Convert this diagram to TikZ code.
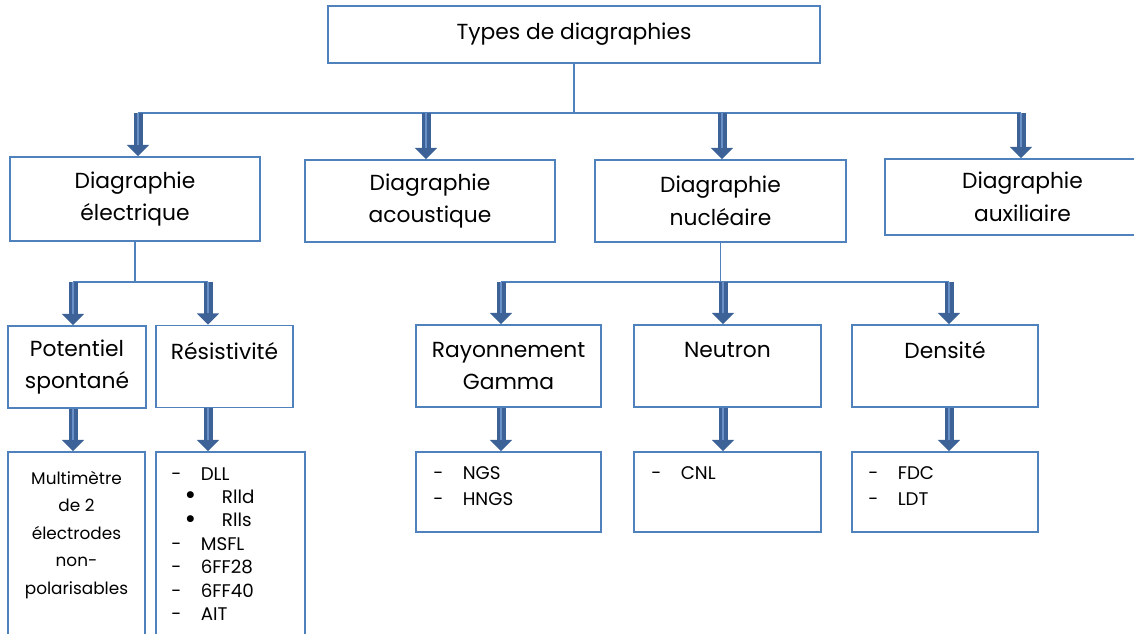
\documentclass[tikz,border=0pt]{standalone}
\usepackage{fontspec}
\setmainfont{Poppins}
\usetikzlibrary{arrows.meta,positioning,calc}
\definecolor{boxblue}{RGB}{79,129,189}
\definecolor{arrowdark}{RGB}{60,98,152}
\definecolor{arrowlight}{RGB}{105,145,200}

\newcommand{\dashitem}[1]{\makebox[21pt][l]{-}#1}
\newcommand{\dotitem}[1]{\hspace*{9.5pt}\makebox[26.5pt][l]{\smash{\raisebox{-1pt}{\fontsize{20}{20}\selectfont\textbullet}}}#1}

\begin{document}
\begin{tikzpicture}[
    x=0.025cm, y=-0.025cm,
    box/.style={rectangle, draw=boxblue, line width=1.3pt, inner sep=0pt, align=center, font=\fontsize{15.5}{23.2}\selectfont},
    head/.style={inner sep=0pt, font=\fontsize{15.5}{23.2}\selectfont},
    items/.style={inner sep=0pt, align=left, font=\fontsize{13}{16.7}\selectfont},
    link/.style={draw=boxblue, line width=1pt},
    bigarrow/.style={-{Triangle[width=15.5pt,length=8pt]}, draw=arrowdark, line width=6.4pt,
        postaction={draw=arrowlight, line width=1.6pt, -, shorten >=8pt}}
]
\useasboundingbox (0,0) rectangle (1134,633);
\clip (0,0) rectangle (1134,633);

% Root
\node[box, minimum width=12.3cm, minimum height=1.425cm] (types) at (574,34.5) {Types de diagraphies};

% First level
\node[box, minimum width=6.25cm, minimum height=2.1cm] (elec) at (135,199) {Diagraphie\\électrique};
\node[box, minimum width=6.25cm, minimum height=2.05cm] (acou) at (430,201) {Diagraphie\\acoustique};
\node[box, minimum width=6.275cm, minimum height=2.05cm] (nucl) at (720.5,201) {Diagraphie\\nucléaire};
\node[box, minimum width=6.875cm, minimum height=1.9cm] (auxi) at (1022.5,197) {Diagraphie\\auxiliaire};

% Bus under the root
\coordinate (busT) at (574,113);
\coordinate (bA) at (138,113);
\coordinate (bB) at (426,113);
\coordinate (bC) at (722,113);
\coordinate (bD) at (1021,113);
\draw[link] (types.south) -- (busT);
\draw[link] (bA) -- (bD);
\draw[bigarrow] (bA) -- (bA |- elec.north);
\draw[bigarrow] (bB) -- (bB |- acou.north);
\draw[bigarrow] (bC) -- (bC |- nucl.north);
\draw[bigarrow] (bD) -- (bD |- auxi.north);

% Second level - electrical
\node[box, minimum width=3.45cm, minimum height=2.05cm] (pot) at (77,367) {Potentiel\\spontané};
\node[box, minimum width=3.425cm, minimum height=2.05cm] (res) at (224.5,366.5) {};
\node[head] (resT) at ($(res.north)+(0,26)$) {Résistivité};

% Second level - nuclear
\node[box, minimum width=4.625cm, minimum height=2.05cm] (gam) at (508.5,366) {Rayonnement\\Gamma};
\node[box, minimum width=4.675cm, minimum height=2.05cm] (neu) at (727.5,366) {};
\node[head] (neuT) at ($(neu.north)+(0,26)$) {Neutron};
\node[box, minimum width=4.65cm, minimum height=2.05cm] (den) at (945,366) {};
\node[head] (denT) at ($(den.north)+(0,26)$) {Densité};

% Bus under electrical
\coordinate (eA) at (73,282);
\coordinate (eB) at (208,282);
\draw[link] (elec.south) -- (elec.south |- eA);
\draw[link] (eA) -- (eB);
\draw[bigarrow] (eA) -- (eA |- pot.north);
\draw[bigarrow] (eB) -- (eB |- res.north);

% Bus under nuclear
\coordinate (nA) at (501,282);
\coordinate (nB) at (723,282);
\coordinate (nC) at (949,282);
\draw[link] (nucl.south) -- (nucl.south |- nA);
\draw[link] (nA) -- (nC);
\draw[bigarrow] (nA) -- (nA |- gam.north);
\draw[bigarrow] (nB) -- (nB |- neu.north);
\draw[bigarrow] (nC) -- (nC |- den.north);

% Third level
\node[box, minimum width=3.425cm, minimum height=5.2cm] (multi) at (76.5,556) {};
\node[box, minimum width=3.725cm, minimum height=5.2cm] (reslist) at (230.5,556) {};
\node[box, minimum width=4.625cm, minimum height=2cm] (gamlist) at (508.5,492) {};
\node[box, minimum width=4.675cm, minimum height=2cm] (neulist) at (727.5,492) {};
\node[box, minimum width=4.65cm, minimum height=2cm] (denlist) at (945,492) {};

\draw[bigarrow] (eA |- pot.south) -- (eA |- multi.north);
\draw[bigarrow] (eB |- res.south) -- (eB |- reslist.north);
\draw[bigarrow] (nA |- gam.south) -- (nA |- gamlist.north);
\draw[bigarrow] (nB |- neu.south) -- (nB |- neulist.north);
\draw[bigarrow] (nC |- den.south) -- (nC |- denlist.north);

% Lists
\node[items, align=center, font=\fontsize{12}{19.5}\selectfont, anchor=north] (multiT) at (76.5,471)
    {Multimètre\\de 2\\électrodes\\non-\\polarisables};
\node[items, anchor=north west] (resL) at (171,467)
    {\dashitem{DLL}\\\dotitem{Rlld}\\\dotitem{Rlls}\\\dashitem{MSFL}\\\dashitem{6FF28}\\\dashitem{6FF40}\\\dashitem{AIT}};
\node[items, font=\fontsize{13}{18.4}\selectfont, anchor=north west] (gamL) at (433,466) {\dashitem{NGS}\\\dashitem{HNGS}};
\node[items, anchor=north west] (neuL) at (651,466) {\dashitem{CNL}};
\node[items, font=\fontsize{13}{18.4}\selectfont, anchor=north west] (denL) at (868,466) {\dashitem{FDC}\\\dashitem{LDT}};

\end{tikzpicture}
\end{document}
